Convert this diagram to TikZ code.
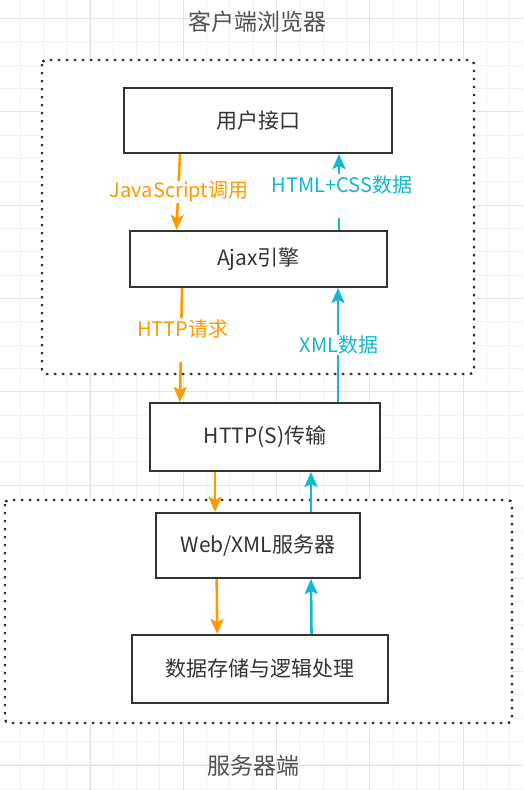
\documentclass[tikz,border=0pt]{standalone}
\usepackage{fontspec}
\setmainfont{Noto Sans CJK SC}
\usepackage{xcolor}
\definecolor{boxgray}{RGB}{51,51,51}
\definecolor{reqorange}{RGB}{255,153,0}
\definecolor{respcyan}{RGB}{18,184,210}
\definecolor{gridlight}{RGB}{242,242,242}
\definecolor{griddark}{RGB}{228,228,228}
\usetikzlibrary{arrows.meta,calc}

\begin{document}
\begin{tikzpicture}[x=1pt, y=-1pt,
    tier/.style={rectangle, draw=boxgray, line width=2pt, fill=white, text=boxgray, inner sep=0pt,
      font=\fontsize{21pt}{26pt}\selectfont},
    zone/.style={draw=boxgray, fill=white, line width=2.4pt, dash pattern=on 2.4pt off 5.6pt, rounded corners=4pt},
    areatitle/.style={text=boxgray!85, font=\fontsize{23pt}{28pt}\selectfont},
    req/.style={-{Stealth[length=15pt, width=13pt, inset=3pt]}, line width=2.6pt, reqorange},
    resp/.style={-{Stealth[length=15pt, width=13pt, inset=3pt]}, line width=2.6pt, respcyan},
    tag/.style={fill=white, inner xsep=2pt, inner ysep=1pt, align=center, font=\fontsize{20pt}{25pt}\selectfont}
  ]
    \useasboundingbox (0,0) rectangle (523,790);
    \fill[white] (0,0) rectangle (523,790);

    % Background grid
    \foreach \i in {0,...,21} \draw[gridlight, line width=1pt] ({20+23.33*\i},0) -- ++(0,790);
    \foreach \j in {0,...,33} \draw[gridlight, line width=1pt] (0,{18.4+23.33*\j}) -- ++(523,0);
    \foreach \i in {0,...,4} \draw[griddark, line width=1pt] ({90+93.33*\i},0) -- ++(0,790);
    \foreach \j in {0,...,8} \draw[griddark, line width=1pt] (0,{18.4+93.33*\j}) -- ++(523,0);

    % Client and server areas
    \draw[zone] (42,60) rectangle (474,374);
    \draw[zone] (5,500) rectangle (512,723);
    \node[areatitle] (tclient) at (257.5,22) {客户端浏览器};
    \node[areatitle] (tserver) at (253,766) {服务器端};

    % Layers
    \node[tier, minimum width=268pt, minimum height=65pt] (ui)   at (258,120.5) {用户接口};
    \node[tier, minimum width=257pt, minimum height=56pt] (ajax) at (258.5,259) {Ajax引擎};
    \node[tier, minimum width=230pt, minimum height=68pt] (http) at (265,437)   {HTTP(S)传输};
    \node[tier, minimum width=204pt, minimum height=65pt] (web)  at (258,545.5) {Web/XML服务器};
    \node[tier, minimum width=256pt, minimum height=68pt] (data) at (260,669)   {数据存储与逻辑处理};

    % Requests going down
    \draw[req] ($(ui.south)+(-78,0)$)    -- ($(ajax.north)+(-82,0)$);
    \draw[req] ($(ajax.south)+(-76.5,0)$) -- ($(http.north)+(-85,0)$);
    \draw[req] ($(http.south)+(-50,0)$)  -- ($(web.north)+(-43,0)$);
    \draw[req] ($(web.south)+(-41.3,0)$) -- ($(data.north)+(-42.8,0)$);

    % Responses going up
    \draw[resp] ($(ajax.north)+(80.5,0)$) -- ($(ui.south)+(81,0)$);
    \draw[resp] ($(http.north)+(73,0)$)   -- ($(ajax.south)+(79.5,0)$);
    \draw[resp] ($(web.north)+(53,0)$)    -- ($(http.south)+(46,0)$);
    \draw[resp] ($(data.north)+(51.5,0)$) -- ($(web.south)+(53,0)$);

    % Connector labels
    \node[tag, text=reqorange] (ljs)   at (179,192) {JavaScript调用};
    \node[tag, text=reqorange, anchor=north] (lreq) at (183,318) {HTTP请求\\\mbox{}};
    \node[tag, text=respcyan, anchor=north] (lhtml) at (342,174) {HTML+CSS数据\\\mbox{}};
    \node[tag, text=respcyan] (lxml)  at (339,345) {XML数据};
  \end{tikzpicture}
\end{document}
